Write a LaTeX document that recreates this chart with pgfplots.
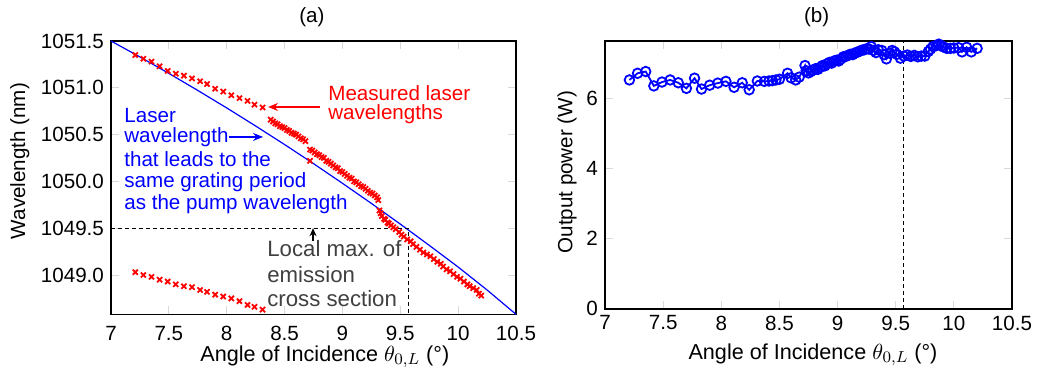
\documentclass[border=0pt]{standalone}
\usepackage{pgfplots}
\pgfplotsset{compat=1.18}
\usepackage{fontspec}
\setmainfont{Liberation Sans}
\usetikzlibrary{arrows.meta}
\definecolor{dgray}{RGB}{64,64,64}
\begin{document}
\begin{tikzpicture}[font=\fontsize{10.3}{12}\selectfont]
\useasboundingbox (0,0) rectangle (518.5pt,185.5pt);
\pgfplotsset{common/.style={
  scale only axis, anchor=south west, clip=false,
  axis line style={line width=0.8pt},
  tick align=inside, tick style={gray!30, line width=0.4pt}, major tick length=4pt,
  /pgf/number format/1000 sep={},
  every tick label/.append style={font=\fontsize{10.3}{12}\selectfont},
  xmin=7, xmax=10.5, xtick={7,7.5,8,8.5,9,9.5,10,10.5},
  xticklabels={7,7.5,8,8.5,9,9.5,10,10.5},
}}
% ---------------- (a)
\begin{axis}[common, at={(55.5pt,28.35pt)}, width=202.5pt, height=136.65pt,
  ymin=1048.58, ymax=1051.5, ytick={1049,1049.5,1050,1050.5,1051,1051.5},
  yticklabels={1049.0,1049.5,1050.0,1050.5,1051.0,1051.5},
  xticklabel style={yshift=-2.5pt}]
\addplot[blue, line width=0.6pt] coordinates {
(7.0,1051.50) (7.25,1051.33) (7.5,1051.154) (7.75,1050.972) (8.0,1050.785)
(8.25,1050.592) (8.5,1050.394) (8.75,1050.19) (9.0,1049.98) (9.25,1049.765)
(9.5,1049.544) (9.75,1049.317) (10.0,1049.085) (10.25,1048.84) (10.5,1048.58)};
\addplot[red, only marks, mark=x, mark size=1.8pt, line width=0.9pt] table {
x y
7.21 1051.35
7.28 1051.31
7.35 1051.28
7.42 1051.23
7.49 1051.18
7.56 1051.15
7.63 1051.13
7.70 1051.10
7.77 1051.07
7.83 1051.04
7.90 1050.99
7.97 1050.96
8.04 1050.92
8.11 1050.89
8.18 1050.86
8.24 1050.82
8.31 1050.79
8.38 1050.66
8.40 1050.64
8.42 1050.62
8.44 1050.61
8.46 1050.59
8.48 1050.58
8.50 1050.57
8.52 1050.55
8.54 1050.54
8.56 1050.52
8.58 1050.51
8.60 1050.50
8.62 1050.48
8.64 1050.46
8.66 1050.45
8.68 1050.43
8.72 1050.22
8.72 1050.34
8.74 1050.33
8.76 1050.31
8.78 1050.29
8.80 1050.28
8.82 1050.26
8.84 1050.25
8.86 1050.22
8.88 1050.21
8.90 1050.19
8.92 1050.17
8.94 1050.15
8.96 1050.14
8.98 1050.11
9.00 1050.10
9.02 1050.08
9.04 1050.06
9.06 1050.04
9.08 1050.03
9.10 1050.00
9.12 1049.99
9.14 1049.97
9.16 1049.95
9.18 1049.94
9.20 1049.92
9.22 1049.90
9.24 1049.88
9.26 1049.87
9.28 1049.85
9.30 1049.83
9.31 1049.80
9.32 1049.69
9.33 1049.66
9.34 1049.63
9.36 1049.60
9.37 1049.59
9.39 1049.56
9.40 1049.55
9.42 1049.53
9.44 1049.51
9.46 1049.49
9.49 1049.46
9.51 1049.43
9.53 1049.41
9.56 1049.38
9.59 1049.36
9.61 1049.33
9.64 1049.30
9.67 1049.27
9.70 1049.24
9.73 1049.22
9.76 1049.20
9.79 1049.17
9.82 1049.14
9.85 1049.12
9.87 1049.09
9.90 1049.06
9.93 1049.04
9.96 1049.01
9.99 1048.98
10.02 1048.96
10.05 1048.93
10.08 1048.90
10.10 1048.88
10.13 1048.86
10.16 1048.84
10.18 1048.80
10.20 1048.78
};
\addplot[red, only marks, mark=x, mark size=1.8pt, line width=0.9pt] table {
x y
7.21 1049.03
7.28 1049.00
7.35 1048.98
7.42 1048.95
7.49 1048.93
7.56 1048.90
7.63 1048.88
7.70 1048.87
7.77 1048.84
7.83 1048.82
7.90 1048.79
7.97 1048.77
8.04 1048.75
8.11 1048.72
8.18 1048.68
8.24 1048.66
8.31 1048.63
};
\draw[black, line width=0.5pt, dash pattern=on 2pt off 1.5pt]
  (axis cs:7,1049.5) -- (axis cs:9.57,1049.5) -- (axis cs:9.57,1048.58);
% annotations
\node[red, anchor=west, align=left, inner sep=0pt, font=\fontsize{10.3}{9.4}\selectfont] at (axis cs:8.875,1050.82) {Measured laser\\wavelengths};
\draw[red, line width=0.6pt, -{Stealth[length=5pt,width=4pt]}] (axis cs:8.81,1050.795) -- (axis cs:8.357,1050.795);
\node[blue, anchor=base west, inner sep=0pt] at (axis cs:7.112,1050.628) {Laser};
\node[blue, anchor=base west, inner sep=0pt] (wl) at (axis cs:7.112,1050.414) {wavelength};
\coordinate (ay) at (axis cs:8.314,1050.475);
\draw[blue, line width=0.6pt, -{Stealth[length=5pt,width=4pt]}] (wl.east |- ay) -- (ay);
\node[blue, anchor=base west, inner sep=0pt] at (axis cs:7.112,1050.158) {that leads to the};
\node[blue, anchor=base west, inner sep=0pt] at (axis cs:7.112,1049.934) {same grating period};
\node[blue, anchor=base west, inner sep=0pt] at (axis cs:7.112,1049.696) {as the pump wavelength};
\begin{scope}[font=\fontsize{11.1}{13}\selectfont]
\node[dgray, anchor=base west, inner sep=0pt] at (axis cs:8.348,1049.197) {Local max. of};
\node[dgray, anchor=base west, inner sep=0pt] at (axis cs:8.348,1048.92) {emission};
\node[dgray, anchor=base west, inner sep=0pt] at (axis cs:8.348,1048.66) {cross section};
\end{scope}
\draw[black, line width=0.6pt, -{Stealth[length=4pt,width=3.5pt]}] (axis cs:8.746,1049.365) -- (axis cs:8.746,1049.5);
% labels
\node[font=\fontsize{10.8}{13}\selectfont] at (rel axis cs:0.528,-0.156) {Angle of Incidence $\theta_{0,L}$ (°)};
\node[rotate=90] at (rel axis cs:-0.225,0.561) {Wavelength (nm)};
\node at (rel axis cs:0.496,1.088) {(a)};
\end{axis}
% ---------------- (b)
\begin{axis}[common, at={(302.5pt,31.15pt)}, width=203.5pt, height=133.85pt,
  ymin=0, ymax=7.63, ytick={0,2,4,6}, yticklabels={0,2,4,6}]
\addplot[blue, mark=o, mark size=2.4pt, line width=0.9pt] table {
x y
7.21 6.52
7.28 6.71
7.35 6.76
7.42 6.35
7.49 6.46
7.56 6.52
7.63 6.44
7.70 6.28
7.77 6.57
7.83 6.26
7.90 6.37
7.97 6.43
8.04 6.48
8.11 6.31
8.18 6.44
8.24 6.24
8.31 6.49
8.37 6.48
8.41 6.49
8.44 6.50
8.47 6.52
8.50 6.54
8.57 6.71
8.60 6.58
8.64 6.52
8.67 6.60
8.72 6.93
8.73 6.78
8.75 6.72
8.77 6.76
8.79 6.80
8.81 6.84
8.83 6.82
8.85 6.88
8.87 6.93
8.89 6.92
8.91 6.98
8.93 7.02
8.95 7.00
8.97 7.06
8.99 7.08
9.01 7.06
9.03 7.12
9.05 7.18
9.07 7.19
9.09 7.22
9.11 7.25
9.13 7.24
9.15 7.29
9.17 7.31
9.19 7.34
9.21 7.37
9.23 7.38
9.25 7.41
9.27 7.40
9.29 7.47
9.31 7.36
9.33 7.30
9.35 7.38
9.38 7.36
9.40 7.24
9.42 7.12
9.45 7.28
9.47 7.36
9.49 7.32
9.51 7.25
9.54 7.14
9.57 7.20
9.60 7.23
9.63 7.19
9.66 7.22
9.69 7.18
9.72 7.20
9.75 7.20
9.78 7.33
9.80 7.40
9.82 7.47
9.85 7.50
9.87 7.54
9.89 7.50
9.91 7.46
9.94 7.42
9.97 7.42
10.00 7.43
10.04 7.44
10.07 7.32
10.11 7.45
10.15 7.32
10.20 7.42
};
\draw[black, line width=0.5pt, dash pattern=on 2pt off 1.5pt]
  (axis cs:9.57,0) -- (axis cs:9.57,7.63);
\node[font=\fontsize{10.8}{13}\selectfont] at (rel axis cs:0.511,-0.172) {Angle of Incidence $\theta_{0,L}$ (°)};
\node[rotate=90] at (rel axis cs:-0.093,0.51) {Output power (W)};
\node at (rel axis cs:0.52,1.09) {(b)};
\end{axis}
\end{tikzpicture}
\end{document}
